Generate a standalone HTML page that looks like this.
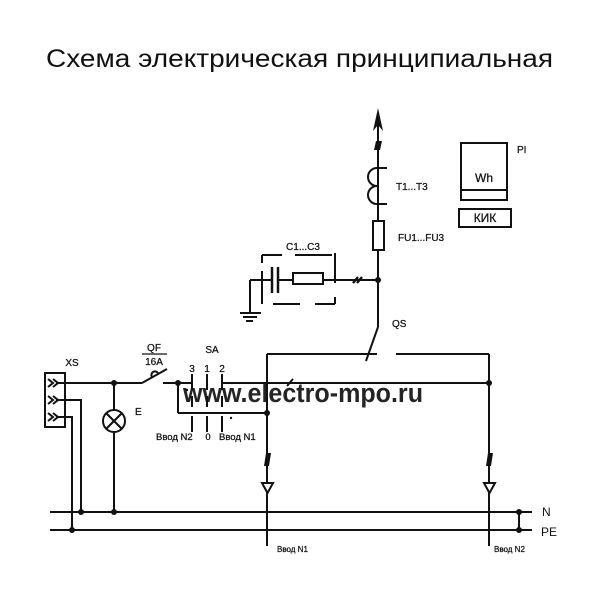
<!DOCTYPE html>
<html><head><meta charset="utf-8"><style>
html,body{margin:0;padding:0;background:#fff;}
svg{display:block;}
text{font-family:"Liberation Sans","DejaVu Sans",sans-serif;fill:#111;}
</style></head><body>
<svg width="600" height="600" viewBox="0 0 600 600" xmlns="http://www.w3.org/2000/svg">
<rect width="600" height="600" fill="#fff"/>
<text x="46" y="67" font-size="25" textLength="507" lengthAdjust="spacingAndGlyphs">Схема электрическая принципиальная</text>

<g stroke="#111" stroke-width="2" fill="none" stroke-linecap="butt">
  <line x1="378" y1="120" x2="378" y2="327"/>
  <path d="M387,168 L377,168 A9,9 0 0 0 377,186 A9,9 0 0 0 377,204 L387,204"/>
  <rect x="373" y="221" width="11" height="29" fill="#fff"/>
  <line x1="250" y1="280" x2="272" y2="280"/>
  <line x1="278" y1="280" x2="293" y2="280"/>
  <line x1="323" y1="280" x2="378" y2="280"/>
  <line x1="272" y1="267" x2="272" y2="293" stroke-width="2.5"/>
  <line x1="278" y1="267" x2="278" y2="293" stroke-width="2.5"/>
  <rect x="293" y="273" width="30" height="11" fill="#fff"/>
  <line x1="250" y1="280" x2="250" y2="313"/>
  <line x1="240" y1="313" x2="261" y2="313"/>
  <line x1="243" y1="317" x2="257" y2="317"/>
  <line x1="246" y1="321" x2="253" y2="321"/>
  <line x1="262" y1="255" x2="262" y2="263"/>
  <line x1="262" y1="271" x2="262" y2="304"/>
  <line x1="262" y1="255" x2="282" y2="255"/>
  <line x1="295" y1="255" x2="332" y2="255"/>
  <line x1="335" y1="253" x2="335" y2="283"/>
  <line x1="335" y1="297" x2="335" y2="304"/>
  <line x1="273" y1="304" x2="300" y2="304"/>
  <line x1="315" y1="304" x2="335" y2="304"/>
  <line x1="353" y1="283" x2="358" y2="277" stroke-width="2.4"/>
  <line x1="357" y1="283" x2="362" y2="277" stroke-width="2.4"/>
  <rect x="461" y="143" width="46" height="57"/>
  <line x1="461" y1="190" x2="507" y2="190"/>
  <rect x="459" y="209" width="52" height="18"/>
  <line x1="378" y1="327" x2="366" y2="361"/>
  <line x1="267" y1="354" x2="377" y2="354"/>
  <line x1="396" y1="354" x2="489" y2="354"/>
  <line x1="267" y1="354" x2="267" y2="546"/>
  <line x1="489" y1="354" x2="489" y2="546"/>
  <line x1="222" y1="383" x2="489" y2="383"/>
  <line x1="287" y1="386" x2="293" y2="379"/>
  <line x1="178" y1="413" x2="267" y2="413"/>
  <path d="M262,483 L273,483 L267.5,493 Z" fill="#fff"/>
  <path d="M484,483 L495,483 L489.5,493 Z" fill="#fff"/>
  <line x1="50" y1="512" x2="532" y2="512"/>
  <line x1="50" y1="530" x2="532" y2="530"/>
  <line x1="519" y1="512" x2="519" y2="530"/>
  <rect x="45" y="373" width="20" height="54"/>
  <polyline points="48,379 53,383 48,387"/>
  <polyline points="53,379 58,383 53,387"/>
  <polyline points="48,396 53,400 48,404"/>
  <polyline points="53,396 58,400 53,404"/>
  <polyline points="48,413 53,417 48,421"/>
  <polyline points="53,413 58,417 53,421"/>
  <line x1="56" y1="383" x2="142" y2="383"/>
  <polyline points="56,400 81,400 81,512"/>
  <polyline points="56,417 72,417 72,530"/>
  <line x1="114" y1="383" x2="114" y2="512"/>
  <circle cx="114" cy="421" r="11" fill="#fff"/>
  <line x1="106" y1="413" x2="122" y2="429"/>
  <line x1="122" y1="413" x2="106" y2="429"/>
  <line x1="142" y1="383" x2="167" y2="369"/>
  <path d="M152,377 A3,3 0 0 1 158,373"/>
  <line x1="163" y1="383" x2="192" y2="383"/>
  <line x1="178" y1="383" x2="178" y2="413"/>
  <line x1="142" y1="354" x2="167" y2="354" stroke-width="1.3"/>
  <line x1="192" y1="374" x2="192" y2="390"/>
  <line x1="192" y1="396" x2="192" y2="407"/>
  <line x1="192" y1="416" x2="192" y2="432"/>
  <line x1="207" y1="374" x2="207" y2="390"/>
  <line x1="207" y1="396" x2="207" y2="407"/>
  <line x1="207" y1="416" x2="207" y2="432"/>
  <line x1="222" y1="374" x2="222" y2="390"/>
  <line x1="222" y1="396" x2="222" y2="407"/>
  <line x1="222" y1="416" x2="222" y2="432"/>
</g>
<g fill="#111">
  <polygon points="378,108 383,131 378,125 373,131"/>
  <polygon points="374,150 376,141 382,141 380,150"/>
  <circle cx="378" cy="280" r="3"/>
  <circle cx="489" cy="383" r="3"/>
  <circle cx="267" cy="413" r="3"/>
  <polygon points="264,466 266,453 271,453 269,466"/>
  <polygon points="486,466 488,453 493,453 491,466"/>
  <circle cx="519" cy="512" r="3"/>
  <circle cx="519" cy="530" r="3"/>
  <circle cx="114" cy="383" r="3"/>
  <circle cx="81" cy="512" r="3"/>
  <circle cx="72" cy="530" r="3"/>
  <circle cx="114" cy="512" r="3"/>
  <circle cx="178" cy="383" r="3"/>
  <circle cx="187" cy="390" r="1.2"/>
  <circle cx="231" cy="418" r="1.2"/>
</g>
<g font-size="10" stroke="#111" stroke-width="0.25">
  <text x="303" y="250" text-anchor="middle">C1...C3</text>
  <text x="396" y="190">T1...T3</text>
  <text x="398" y="241">FU1...FU3</text>
  <text x="392" y="327">QS</text>
  <text x="484" y="182" text-anchor="middle" font-size="12">Wh</text>
  <text x="517" y="153">PI</text>
  <text x="485" y="222" text-anchor="middle" font-size="12">КИК</text>
  <text x="72" y="366" text-anchor="middle">XS</text>
  <text x="135" y="415">E</text>
  <text x="154" y="351" text-anchor="middle">QF</text>
  <text x="154" y="365" text-anchor="middle">16A</text>
  <text x="212" y="353" text-anchor="middle">SA</text>
  <text x="192" y="372" text-anchor="middle">3</text>
  <text x="207" y="372" text-anchor="middle">1</text>
  <text x="222" y="372" text-anchor="middle">2</text>
  <text x="156" y="440" font-size="9.5">Ввод N2</text>
  <text x="208" y="440" font-size="9.5" text-anchor="middle">0</text>
  <text x="219" y="440" font-size="9.5">Ввод N1</text>
  <text x="277" y="552" font-size="8">Ввод N1</text>
  <text x="494" y="552" font-size="8">Ввод N2</text>
  <text x="542" y="516" font-size="12" stroke-width="0">N</text>
  <text x="541" y="536" font-size="12" stroke-width="0">PE</text>
</g>
<text x="183" y="402" font-size="27" font-weight="bold" fill="#a2a2a2" fill-opacity="0.92" textLength="240" lengthAdjust="spacingAndGlyphs">www.electro-mpo.ru</text>
</svg>
</body></html>
